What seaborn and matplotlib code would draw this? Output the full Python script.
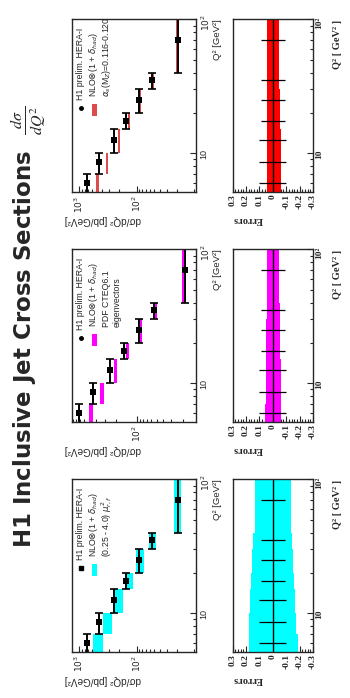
import numpy as np
import pandas as pd
import matplotlib
matplotlib.use("Agg")
from matplotlib import pyplot as plt
from matplotlib.patches import Rectangle
from matplotlib.ticker import FixedLocator, FixedFormatter, LogLocator, MultipleLocator, NullFormatter
import seaborn as sns

# Q2 bins [GeV^2]
q2_edges = [5, 7, 10, 15, 20, 30, 40, 100]
q2_centers = [6, 8.5, 12.5, 17.5, 25, 35, 70]

# H1 prelim. HERA-I data, dsigma/dQ2 [pb/GeV^2]
xsec = [720, 450, 250, 153, 91, 54, 19]
xsec_relerr = [0.10, 0.10, 0.10, 0.09, 0.09, 0.09, 0.09]

# NLO x (1 + delta_had)
nlo = [480, 330, 205, 137, 88, 53, 20]

# relative theory uncertainties (up, down)
alphas_up = [0.040, 0.040, 0.040, 0.045, 0.040, 0.040, 0.040]
alphas_dn = [0.058, 0.058, 0.058, 0.053, 0.053, 0.045, 0.045]
pdf_up = [0.060, 0.050, 0.050, 0.050, 0.050, 0.045, 0.043]
pdf_dn = [0.063, 0.058, 0.058, 0.053, 0.053, 0.053, 0.045]
scale_up = [0.176, 0.174, 0.169, 0.161, 0.151, 0.144, 0.136]
scale_dn = [0.185, 0.175, 0.165, 0.156, 0.148, 0.140, 0.135]

err_ticks = [0.3, 0.2, 0.1, 0, -0.1, -0.2, -0.3]
err_ticklabels = ["0.3", "0.2", "0.1", "0", "-0.1", "-0.2", "-0.3"]

sns.set_style("ticks")
plt.rcParams["font.family"] = ["Liberation Sans", "DejaVu Sans"]
SERIF = ["Liberation Serif", "DejaVu Serif"]

df = pd.DataFrame({"q2": q2_centers, "xsec": xsec, "relerr": xsec_relerr, "nlo": nlo})
edges = np.array(q2_edges, dtype=float)
centers = np.array(q2_centers, dtype=float)

panels = [
    dict(bottom=0.7249, band="#dc4c4c", errband="#ff0000", up=alphas_up, dn=alphas_dn,
         xlim=(1340, 9.4), marker="o",
         lines=[r"$\alpha_s$(M$_Z$)=0.116-0.120"]),
    dict(bottom=0.3954, band="#ff00ff", errband="#ff00ff", up=pdf_up, dn=pdf_dn,
         xlim=(930, 12.9), marker="o",
         lines=["PDF CTEQ6.1", "eigenvectors"]),
    dict(bottom=0.0659, band="#00ffff", errband="#00ffff", up=scale_up, dn=scale_dn,
         xlim=(1340, 9.4), marker="s",
         lines=[r"(0.25 - 4.0) $\mu^2_{r,f}$"]),
]

fig = plt.figure(figsize=(3.5, 6.98), dpi=100)
H = 0.2472

for p in panels:
    up = np.array(p["up"])
    dn = np.array(p["dn"])
    nl = df["nlo"].values

    # ---- cross section panel (rotated: Q2 vertical, xsec horizontal)
    ax = fig.add_axes([0.2049, p["bottom"], 0.3551, H])
    ax.set_xscale("log")
    ax.set_yscale("log")
    lo = nl * (1 - dn)
    hi = nl * (1 + up)
    ax.barh(y=edges[:-1], width=hi - lo, left=lo, height=np.diff(edges),
            align="edge", color=p["band"], linewidth=0)
    ax.errorbar(df["xsec"], df["q2"], yerr=[centers - edges[:-1], edges[1:] - centers],
                fmt="none", ecolor="k", elinewidth=1.4, capsize=2.8, capthick=1.2)
    ax.errorbar(df["xsec"], df["q2"], xerr=df["xsec"] * df["relerr"],
                fmt="none", ecolor="k", elinewidth=1.4)
    sns.scatterplot(data=df, x="xsec", y="q2", marker="s", color="k", s=18,
                    edgecolor="k", linewidth=0, ax=ax, legend=False, zorder=5)
    ax.set_xlim(*p["xlim"])
    ax.set_ylim(5.1, 100)
    ax.set_xlabel("")
    ax.set_ylabel("")

    ax.xaxis.set_major_locator(FixedLocator([100, 1000]))
    ax.xaxis.set_major_formatter(FixedFormatter(["$10^2$", "$10^3$"]))
    ax.xaxis.set_minor_locator(LogLocator(base=10, subs=np.arange(1, 10)))
    ax.xaxis.set_minor_formatter(NullFormatter())
    ax.yaxis.tick_right()
    ax.yaxis.set_major_locator(FixedLocator([10, 100]))
    ax.yaxis.set_major_formatter(FixedFormatter(["10", "$10^2$"]))
    ax.yaxis.set_minor_locator(LogLocator(base=10, subs=np.arange(2, 10)))
    ax.yaxis.set_minor_formatter(NullFormatter())
    ax.tick_params(which="both", direction="in", top=False, left=False,
                   right=True, bottom=True, labelsize=6.5, width=0.8, pad=2.5)
    ax.tick_params(which="major", length=4)
    ax.tick_params(which="minor", length=2)
    ax.tick_params(axis="x", labelrotation=90)
    ax.tick_params(axis="y", labelrotation=90)
    for s in ax.spines.values():
        s.set_linewidth(1.0)

    ax.text(1.17, 1.0, "Q² [GeV²]", transform=ax.transAxes, rotation=90,
            ha="center", va="top", fontsize=6.8)
    ax.text(-0.054, -0.162, "dσ/dQ² [pb/GeV²]", transform=ax.transAxes, rotation=180,
            ha="left", va="center", fontsize=7.2)

    # legend
    ax.plot([0.072], [0.485], marker=p["marker"], ms=2.5, color="k",
            transform=ax.transAxes, clip_on=False)
    ax.text(0.072, 0.533, "H1 prelim. HERA-I", transform=ax.transAxes, rotation=90,
            ha="center", va="bottom", fontsize=6.3)
    ax.add_patch(Rectangle((0.16, 0.44), 0.045, 0.07, transform=ax.transAxes,
                           color=p["band"], linewidth=0))
    ax.text(0.178, 0.548, r"NLO$\otimes$(1 + $\delta_{had}$)", transform=ax.transAxes,
            rotation=90, ha="center", va="bottom", fontsize=6.3)
    for i, line in enumerate(p["lines"]):
        ax.text(0.282 + 0.085 * i, 0.548, line, transform=ax.transAxes, rotation=90,
                ha="center", va="bottom", fontsize=6.3)

    # ---- relative error panel
    ex = fig.add_axes([0.6643, p["bottom"], 0.23, H])
    ex.set_yscale("log")
    ex.fill_betweenx(edges, -np.append(dn, dn[-1]), np.append(up, up[-1]),
                     step="post", color=p["errband"], linewidth=0)
    ex.axvline(0, color="k", lw=1.0)
    ex.errorbar(np.zeros(len(centers)), centers, xerr=df["relerr"], fmt="none",
                ecolor="k", elinewidth=0.9)
    ex.set_xlim(0.3, -0.3)
    ex.set_ylim(5.1, 100)
    ex.xaxis.set_major_locator(FixedLocator(err_ticks))
    ex.xaxis.set_major_formatter(FixedFormatter(err_ticklabels))
    ex.xaxis.set_minor_locator(MultipleLocator(0.02))
    ex.yaxis.tick_right()
    ex.yaxis.set_major_locator(FixedLocator([10, 100]))
    ex.yaxis.set_major_formatter(FixedFormatter(["10", "10²"]))
    ex.yaxis.set_minor_locator(LogLocator(base=10, subs=np.arange(2, 10)))
    ex.yaxis.set_minor_formatter(NullFormatter())
    ex.tick_params(which="both", direction="in", top=False, left=False,
                   right=True, bottom=True, labelsize=6.8, width=0.8, pad=1.5)
    ex.tick_params(which="major", length=4)
    ex.tick_params(which="minor", length=2)
    ex.tick_params(axis="x", labelrotation=90)
    ex.tick_params(axis="y", labelrotation=90)
    for lab in ex.get_xticklabels() + ex.get_yticklabels():
        lab.set_family(SERIF)
        lab.set_fontweight("bold")
    for s in ex.spines.values():
        s.set_linewidth(1.0)
    ex.text(1.31, 1.0, "Q² [ GeV² ]", transform=ex.transAxes, rotation=90,
            ha="center", va="top", fontsize=7.5, fontweight="bold", family=SERIF)
    ex.text(0.0, -0.16, "Errors", transform=ex.transAxes, rotation=180,
            ha="left", va="center", fontsize=7.5, fontweight="bold", family=SERIF)

fig.text(0.085, 0.215, r"H1 Inclusive Jet Cross Sections  $\frac{d\sigma}{dQ^2}$",
         rotation=90, ha="center", va="bottom", fontsize=16.5, fontweight="bold",
         family=["DejaVu Sans"], math_fontfamily="stix")

plt.savefig("out.png", dpi=100)
